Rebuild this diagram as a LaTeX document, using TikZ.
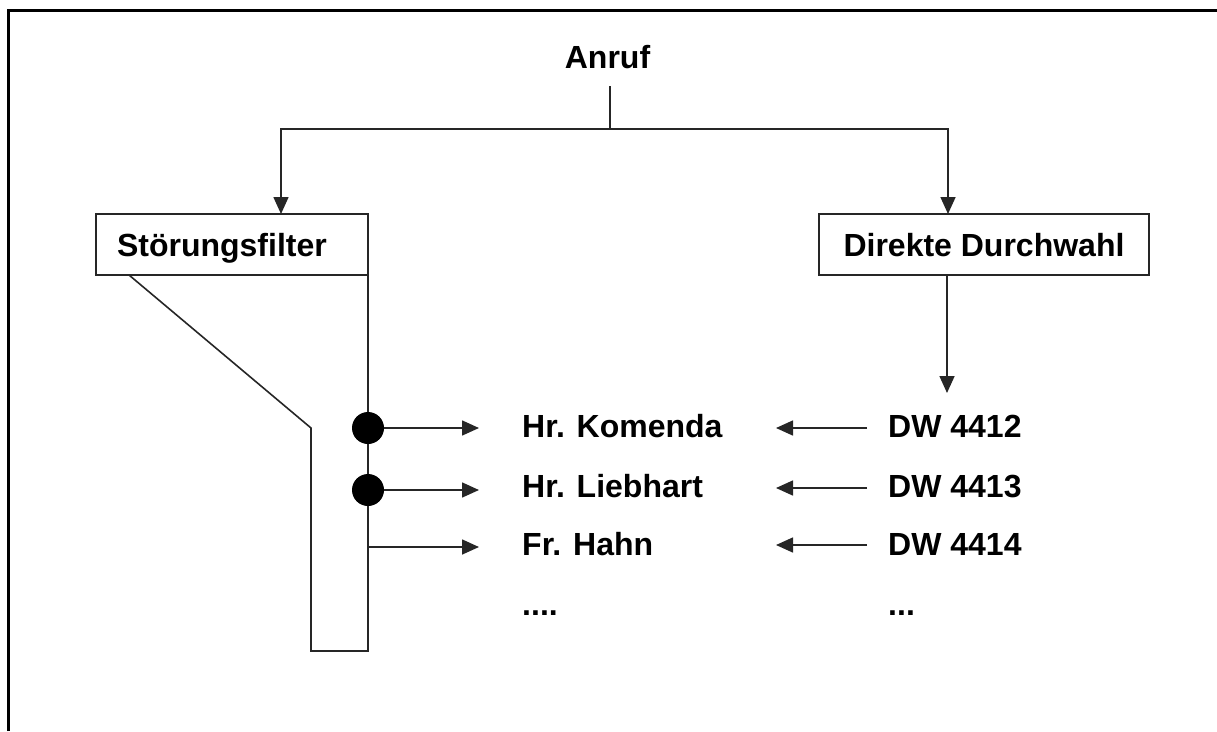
\documentclass[tikz,border=0pt]{standalone}
\usepackage{fontspec}
\setmainfont{Liberation Sans}
\usetikzlibrary{arrows.meta,calc}
\begin{document}
\begin{tikzpicture}[x=1pt,y=-1pt,
  every node/.style={font=\fontsize{32}{38}\selectfont\bfseries},
  line/.style={line width=1.6pt,color=black!85},
  arr/.style={line, -{Triangle[length=17pt,width=15pt]}},
  labelbox/.style={draw,line width=1.6pt,color=black!85,text=black,minimum height=61pt,
    inner ysep=0pt,inner xsep=0pt,text height=23pt,text depth=0pt},
  entry/.style={anchor=base west,inner sep=0pt},
  junction/.style={circle,fill=black,inner sep=0pt,minimum size=32pt}]
  % page area and open frame (top and left edge only)
  \useasboundingbox (0,0) rectangle (1217,731);
  \draw[line width=3pt] (8,731) -- (8,10) -- (1217,10);

  % title and the two branches
  \node[anchor=base,inner sep=0pt] (anruf) at (607.5,68) {Anruf};
  \node[labelbox,minimum width=272pt] (sf) at (232,244.5) {\makebox[230pt][l]{Störungsfilter}};
  \node[labelbox,minimum width=330pt] (dd) at (984,244.5) {Direkte Durchwahl};

  \coordinate (a0) at (610,86);
  \coordinate (split) at (610,129);
  \coordinate (sfin) at (281,214);
  \coordinate (ddin) at (948,214);
  \draw[line] (a0) -- (split);
  \draw[arr] (split) -| (sfin);
  \draw[arr] (split) -| (ddin);

  % filter funnel below the left box
  \coordinate (fr) at (368,275);
  \coordinate (fl) at (129,275);
  \draw[line] (fr) -- (368,651) -- (311,651) -- (311,428) -- (fl);

  % persons
  \node[entry] (p1) at (522,437) {Hr. Komenda};
  \node[entry] (p2) at (522,497) {Hr. Liebhart};
  \node[entry] (p3) at (522,555) {Fr. Hahn};
  \node[entry] (p4) at (522,615) {....};

  % extensions
  \node[entry] (d1) at (888,437) {DW 4412};
  \node[entry] (d2) at (888,497) {DW 4413};
  \node[entry] (d3) at (888,555) {DW 4414};
  \node[entry] (d4) at (888,615) {...};

  % direct dial goes down to the extension list
  \coordinate (ddout) at (947,275);
  \coordinate (ddend) at (947,393);
  \draw[arr] (ddout) -- (ddend);

  % filter outputs
  \node[junction] (j1) at (368,428) {};
  \node[junction] (j2) at (368,490) {};
  \coordinate (j3) at (368,547);
  \coordinate (t1) at (479,428);
  \coordinate (t2) at (479,490);
  \coordinate (t3) at (479,547);
  \draw[arr] (j1.east) -- (t1);
  \draw[arr] (j2.east) -- (t2);
  \draw[arr] (j3) -- (t3);

  % extension arrows pointing to persons
  \coordinate (s1) at (867,428);
  \coordinate (s2) at (867,488);
  \coordinate (s3) at (867,545);
  \coordinate (e1) at (776,428);
  \coordinate (e2) at (776,488);
  \coordinate (e3) at (776,545);
  \draw[arr] (s1) -- (e1);
  \draw[arr] (s2) -- (e2);
  \draw[arr] (s3) -- (e3);
\end{tikzpicture}
\end{document}
